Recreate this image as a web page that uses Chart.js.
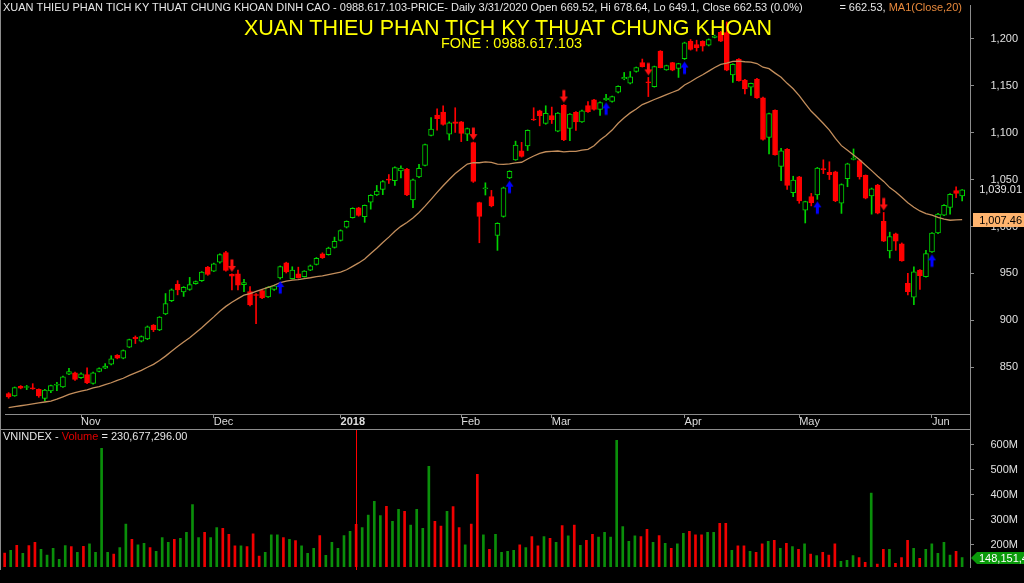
<!DOCTYPE html>
<html>
<head>
<meta charset="utf-8">
<title>VNINDEX</title>
<script src="https://cdn.jsdelivr.net/npm/chart.js@4.4.0/dist/chart.umd.min.js"></script>
<style>
  html, body { margin: 0; padding: 0; background: #000; }
  body { position: relative; width: 1024px; height: 583px; overflow: hidden; font-family: "Liberation Sans", Arial, sans-serif; }
  canvas { position: absolute; left: 0; }
  #price { top: 0; }
  #volume { top: 429px; }
  .t { position: absolute; white-space: nowrap; line-height: 1; z-index: 2; }
  #info { left: 3px; top: 2px; font-size: 11px; color: #e6e6e6; }
  #maInfo { right: 62px; top: 2px; font-size: 11px; color: #e6e6e6; }
  #maInfo span { color: #e8893c; }
  #title { left: 0; width: 1016px; text-align: center; top: 17.5px; font-size: 21.5px; color: #ffff00; }
  #fone { left: 0; width: 1023px; text-align: center; top: 36px; font-size: 14.5px; color: #ffff00; }
  #volInfo { left: 3px; top: 431px; font-size: 11px; color: #e6e6e6; }
  #volInfo span { color: #e00000; }
  #frame { position: absolute; left: 0; top: 0; width: 1px; height: 570px; background: #8c8c8c; z-index: 3; }
</style>
</head>
<body>
<canvas id="price" width="1024" height="429"></canvas>
<canvas id="volume" width="1024" height="154"></canvas>
<div id="frame"></div>
<div class="t" id="info">XUAN THIEU PHAN TICH KY THUAT CHUNG KHOAN DINH CAO - 0988.617.103-PRICE- Daily 3/31/2020 Open 669.52, Hi 678.64, Lo 649.1, Close 662.53 (0.0%)</div>
<div class="t" id="maInfo">= 662.53, <span>MA1(Close,20)</span></div>
<div class="t" id="title">XUAN THIEU PHAN TICH KY THUAT CHUNG KHOAN</div>
<div class="t" id="fone">FONE : 0988.617.103</div>
<div class="t" id="volInfo">VNINDEX - <span>Volume</span> = 230,677,296.00</div>
<script>
// trading days shown on the chart
const dates = [
  '2017-10-16','2017-10-17','2017-10-18','2017-10-19','2017-10-20','2017-10-23','2017-10-24','2017-10-25','2017-10-26','2017-10-27','2017-10-30','2017-10-31',
  '2017-11-01','2017-11-02','2017-11-03','2017-11-06','2017-11-07','2017-11-08','2017-11-09','2017-11-10','2017-11-13','2017-11-14','2017-11-15','2017-11-16',
  '2017-11-17','2017-11-20','2017-11-21','2017-11-22','2017-11-23','2017-11-24','2017-11-27','2017-11-28','2017-11-29','2017-11-30',
  '2017-12-01','2017-12-04','2017-12-05','2017-12-06','2017-12-07','2017-12-08','2017-12-11','2017-12-12','2017-12-13','2017-12-14','2017-12-15',
  '2017-12-18','2017-12-19','2017-12-20','2017-12-21','2017-12-22','2017-12-25','2017-12-26','2017-12-27','2017-12-28','2017-12-29',
  '2018-01-02','2018-01-03','2018-01-04','2018-01-05','2018-01-08','2018-01-09','2018-01-10','2018-01-11','2018-01-12','2018-01-15',
  '2018-01-16','2018-01-17','2018-01-18','2018-01-19','2018-01-22','2018-01-23','2018-01-24','2018-01-25','2018-01-26','2018-01-29',
  '2018-02-01','2018-02-02','2018-02-05','2018-02-06','2018-02-07','2018-02-08','2018-02-09','2018-02-12','2018-02-13','2018-02-21',
  '2018-02-22','2018-02-23','2018-02-26','2018-02-27','2018-02-28',
  '2018-03-01','2018-03-02','2018-03-05','2018-03-06','2018-03-07','2018-03-08','2018-03-09','2018-03-12','2018-03-13','2018-03-14','2018-03-15',
  '2018-03-16','2018-03-19','2018-03-20','2018-03-21','2018-03-22','2018-03-23','2018-03-26','2018-03-27','2018-03-28','2018-03-29','2018-03-30',
  '2018-04-02','2018-04-03','2018-04-04','2018-04-05','2018-04-06','2018-04-09','2018-04-10','2018-04-11','2018-04-12','2018-04-13',
  '2018-04-16','2018-04-17','2018-04-18','2018-04-19','2018-04-20','2018-04-23','2018-04-24','2018-04-26','2018-04-27',
  '2018-05-02','2018-05-03','2018-05-04','2018-05-07','2018-05-08','2018-05-09','2018-05-10','2018-05-11','2018-05-14','2018-05-15','2018-05-16',
  '2018-05-17','2018-05-18','2018-05-21','2018-05-22','2018-05-23','2018-05-24','2018-05-25','2018-05-28','2018-05-29','2018-05-30','2018-05-31',
  '2018-06-01','2018-06-04','2018-06-05','2018-06-06','2018-06-07','2018-06-08'
];

const opens = [
  821.9,819.5,829.7,828.4,827.5,826.5,816.7,824.7,830.8,829,
  842.7,844,838.8,842.3,832.8,845.5,849,853.2,862.7,859.8,
  871.4,882,877.8,880.2,895,889.7,906.9,920.9,938.5,930.4,
  932.9,939.2,942.3,956.7,952.5,962,972.2,949,949.7,938.1,
  930.7,927.3,931.8,925.1,932.9,945.1,961.3,944.4,949.7,946.5,
  953.6,959.5,970.8,970.1,977.8,985.2,999.2,1009.4,1019.9,1010.4,
  1025.9,1033.6,1039.5,1050.5,1049,1059.2,1061.3,1028.3,1052.9,1065.2,
  1097.1,1118.9,1122,1098.5,1111.5,1111.5,1098.5,1089.4,1025.5,1040.3,
  1031.9,990.4,1010.8,1051.8,1071.1,1080.6,1085.9,1114.3,1123.4,1109.8,
  1118.2,1101.7,1129.4,1104.5,1121.7,1111.5,1129,1135,1124.8,1135,
  1133.3,1143.1,1157.5,1152.9,1165.2,1174.7,1153.6,1149.1,1187,1167,
  1174.7,1168.4,1178.9,1197.5,1194,1197.5,1193.3,1201.5,1207,1206.6,
  1161.7,1178.2,1156.1,1148.4,1157.1,1137.1,1095,1123.8,1064.1,1082.4,
  1036,1052.9,1017.4,1031.8,1033.6,1061,1057.8,1058.2,1024.8,1051.1,
  1071.5,1070.4,1054.6,1032.5,1044.1,1005.5,973.9,992.2,981.6,939.5,
  924.8,953.6,946.5,972.9,993.2,1012.2,1020.3,1038.2,1032.6
];
const highs = [
  823,829,830.5,830.7,832.5,827,826.5,831,833.9,840.5,
  849,845,844,849.3,845,849.5,853.9,862.3,863.5,868.5,
  880,883.4,883.5,894,895.5,904,928.6,933.5,942.3,936,
  945.8,942,952,957.5,961,971,973.6,949.5,953.6,943.7,
  936,928.5,932.5,936,937.5,958,962,957.1,956.7,953,
  959,967,972,978,988.7,996.5,1006,1020,1020.5,1023,
  1034,1043.8,1049,1055.4,1063.5,1064.8,1062,1050.5,1066.2,1088,
  1116,1125.5,1128.7,1111.5,1126.6,1112,1105,1090,1026,1046.6,
  1038.5,1004,1042,1059.5,1091,1089.7,1103,1126.6,1124,1128.7,
  1127.3,1121.5,1130,1120.5,1122.5,1124,1133.3,1135.5,1133,1141,
  1139,1150,1164.2,1165.2,1170,1178.5,1158.9,1171,1187.5,1172,
  1175,1174,1196.5,1199.3,1198.6,1198,1200,1204,1208,1218,
  1173.5,1179,1157,1153,1158,1138,1121,1124.5,1083.4,1083,
  1053.6,1053.5,1027,1035.3,1063,1071.1,1069,1059,1045.5,1067.5,
  1082.7,1071,1055,1041,1045,1015,994,993,982.5,950,
  957.1,954,974.6,993.5,1014,1023.5,1035,1042.4,1039.5
];
const lows = [
  817,819,827,826.2,826.5,818,814.2,823,825.1,828.5,
  842,836,838,832.5,832,845,848.5,852.5,859,859,
  871,875.3,877,879.5,888,889,906,920,927.2,925.5,
  932,938.5,941.5,948,952,961,952.5,932.5,932.5,930.7,
  915.5,896.4,923,924.5,932,944,950.5,944,945,946,
  953,959,966,969.5,977,984.5,998.5,1009,1011,1004.5,
  1018.5,1033,1034,1045.9,1043.8,1051.8,1033,1020.2,1052,1064.5,
  1096.5,1102.7,1108,1092.2,1100.3,1090.5,1091.5,1047,982.7,1033.6,
  1021,974.6,1010,1051,1070.5,1074,1081,1113,1107.3,1109,
  1109.8,1101,1091.5,1091.5,1102.4,1111,1121.5,1124,1118.5,1134.5,
  1132.5,1142.5,1156.4,1152,1164.5,1170,1138.5,1148.5,1169,1166.5,
  1166,1158.9,1178,1188,1187,1187,1192.5,1201,1197,1166,
  1153.6,1155,1141.4,1139.6,1136.5,1092,1077.5,1076,1049,1039.5,
  1031.8,1024.8,1003.8,1022,1029,1056.4,1050.1,1026.5,1014,1042.4,
  1071,1050.5,1029.5,1013.2,1013.5,984,966.5,974.6,963,927.2,
  916.7,933,946,972.5,992.5,1011.5,1013.2,1030.8,1027.3
];
const closes = [
  818.4,828.3,827.6,828.7,827,819.5,825.8,830.4,831.4,839.8,
  845.5,837,843,833.2,844,848.6,851.4,859.1,859.8,867.9,
  879.5,880.5,882.7,893.2,890,903.4,917.8,932.5,932.5,935.3,
  938.1,941.3,951.5,949,960.2,970.1,953.2,947.2,937.4,940.2,
  916.4,926.5,924,935.3,936.7,957.4,951.5,953.6,945.5,952.5,
  958.1,966.2,966.9,977.1,984.1,995.7,1005.5,1019.5,1011.8,1022.7,
  1033.2,1037.8,1048,1049.5,1062.7,1062.4,1033.6,1049.7,1062,1087.3,
  1103.8,1114.9,1108.7,1110.5,1110,1099.2,1104.5,1048,1010.8,1040.6,
  1022,1003.4,1041.3,1058.9,1086.9,1074.7,1102.4,1113.5,1118.2,1120.6,
  1114,1121,1092.2,1119.9,1111.5,1123.4,1122.4,1124.8,1132.2,1136.8,
  1138.5,1149.4,1158.9,1159.6,1169.4,1170.5,1153.2,1170.5,1169.4,1171.5,
  1166.6,1173.6,1195.8,1188.7,1190.5,1192.2,1199.3,1203,1197.5,1166.6,
  1172.9,1155.4,1146.6,1152.6,1137.1,1092.9,1120.3,1076.4,1080.6,1043.8,
  1049.4,1027.3,1026.6,1025.5,1062.4,1060.6,1055.4,1027.3,1044.8,1066.9,
  1072,1052.9,1030.1,1040.3,1014.3,984.5,989.4,984.5,963.4,930.7,
  951.8,947.6,971.1,992.9,1013.2,1022.7,1034.3,1035.3,1039.01
];
// MA1(Close,20)
const ma20 = [
  807,808,809,810,811,812,813,814,816,818.5,
  821,823,824.5,826,828,829.5,831.5,833.5,836,838.3,
  841.4,844.0,846.7,850.0,853.1,857.3,861.9,867.0,872.1,876.9,
  881.5,886.7,892.1,897.9,903.7,909.8,914.9,919.3,923.2,926.8,
  928.6,930.9,933.0,935.1,937.4,940.1,941.8,942.9,943.5,944.4,
  945.4,946.6,947.4,948.8,950.0,951.3,953.9,957.5,961.2,965.4,
  971.2,976.8,983.0,988.7,995.0,1000.2,1004.3,1009.1,1015.0,1021.7,
  1029.0,1036.4,1043.5,1050.2,1056.5,1061.6,1066.6,1068.0,1068.0,1068.9,
  1068.3,1066.6,1066.3,1066.7,1067.9,1068.5,1072.0,1075.2,1078.0,1079.7,
  1080.2,1080.5,1079.6,1080.1,1080.2,1081.4,1082.3,1086.1,1092.2,1097.0,
  1102.8,1110.1,1116.0,1121.1,1125.2,1130.0,1132.5,1135.4,1137.9,1140.5,
  1143.1,1145.7,1150.9,1154.3,1158.3,1161.7,1165.6,1169.5,1172.8,1174.2,
  1176.0,1176.3,1175.6,1175.3,1173.7,1169.8,1168.2,1163.5,1159.0,1152.6,
  1146.8,1139.5,1131.0,1122.8,1116.4,1109.8,1102.7,1093.9,1086.2,1081.2,
  1076.2,1071.1,1065.3,1059.6,1053.5,1048.1,1041.5,1036.9,1031.1,1025.4,
  1020.5,1016.6,1013.8,1012.2,1009.7,1007.8,1006.7,1007.1,1007.46
];
// volume in millions of shares
const volumeMillions = [
  166,177,197,165,196,209,181,158,185,141,
  196,192,169,193,203,169,585,169,162,188,
  282,221,199,205,188,173,228,209,221,225,
  249,360,228,249,228,268,265,241,195,195,
  192,243,154,169,239,239,228,221,216,195,
  165,185,236,157,209,185,236,253,281,268,
  318,373,316,353,293,341,333,278,341,265,
  513,293,274,333,352,268,199,282,481,239,
  181,241,169,173,177,199,188,232,195,232,
  225,209,276,235,278,197,217,241,230,249,
  230,617,272,213,235,232,261,209,236,205,
  185,203,245,253,239,239,249,249,285,285,
  177,195,195,173,169,203,213,217,185,205,
  192,181,203,162,156,169,158,203,133,137,
  156,148,129,406,122,181,181,125,148,217,
  185,145,181,203,165,209,158,173,148.1514
];
const buyBars = [45, 83, 99, 112, 134, 153];
const sellBars = [37, 77, 92, 106, 145];
const selectedBar = 58;
const monthNames = ['Jan','Feb','Mar','Apr','May','Jun','Jul','Aug','Sep','Oct','Nov','Dec'];
const priceTicks = [850, 900, 950, 1000, 1050, 1100, 1150, 1200];
const volumeTicks = [200, 300, 400, 500, 600];

const FONT = '"Liberation Sans", Arial, sans-serif';
const UP = '#00d400', DOWN = '#ff0000';
const VOL_UP = '#0a8f0a', VOL_DOWN = '#f00000';
const GRID = '#8c8c8c';
const X_MIN = -0.6, X_MAX = 159.3;

Chart.defaults.font.family = FONT;

const isUp = closes.map((c, i) => c >= opens[i]);

// first bar of each month gets a tick; January shows the year
const monthTicks = [];
dates.forEach((d, i) => {
  if (i === 0) return;
  const m = +d.slice(5, 7);
  if (m !== +dates[i - 1].slice(5, 7)) {
    monthTicks.push({ value: i, label: m === 1 ? d.slice(0, 4) : monthNames[m - 1] });
  }
});

function makeArrow(color, down) {
  const c = document.createElement('canvas');
  c.width = 9; c.height = 34;
  const g = c.getContext('2d');
  g.fillStyle = color;
  g.beginPath();
  if (down) {
    g.moveTo(4.5, 15); g.lineTo(0.5, 9); g.lineTo(3, 9); g.lineTo(3, 2.5);
    g.lineTo(6, 2.5); g.lineTo(6, 9); g.lineTo(8.5, 9);
  } else {
    g.moveTo(4.5, 19); g.lineTo(8.5, 25); g.lineTo(6, 25); g.lineTo(6, 31.5);
    g.lineTo(3, 31.5); g.lineTo(3, 25); g.lineTo(0.5, 25);
  }
  g.closePath();
  g.fill();
  return c;
}

const fmt2 = v => v.toLocaleString('en-US', { minimumFractionDigits: 2, maximumFractionDigits: 2 });

const priceLabels = {
  id: 'priceLabels',
  afterDraw(chart) {
    const { ctx, chartArea } = chart;
    const y = chart.scales.y;
    const last = closes.length - 1;
    ctx.save();
    ctx.strokeStyle = GRID;
    ctx.lineWidth = 1;
    ctx.beginPath();
    ctx.moveTo(970.5, chartArea.bottom);
    ctx.lineTo(970.5, chart.height);
    ctx.stroke();

    ctx.font = '11px ' + FONT;
    ctx.textAlign = 'right';
    ctx.textBaseline = 'middle';
    ctx.fillStyle = '#e6e6e6';
    ctx.fillText(fmt2(closes[last]), 1022, y.getPixelForValue(closes[last]));

    const ym = Math.round(y.getPixelForValue(ma20[last]));
    ctx.fillStyle = '#ffb46e';
    ctx.fillRect(973, ym - 7, 51, 14);
    ctx.fillStyle = '#000';
    ctx.fillText(fmt2(ma20[last]), 1022, ym + 0.5);
    ctx.restore();
  }
};

const volumeLabels = {
  id: 'volumeLabels',
  afterDraw(chart) {
    const { ctx, chartArea } = chart;
    const x = chart.scales.x, y = chart.scales.y;
    const last = volumeMillions.length - 1;
    ctx.save();
    ctx.strokeStyle = GRID;
    ctx.lineWidth = 1;
    ctx.beginPath();
    ctx.moveTo(0, 0.5);
    ctx.lineTo(chartArea.right, 0.5);
    ctx.stroke();

    const xs = Math.round(x.getPixelForValue(selectedBar)) + 0.5;
    ctx.strokeStyle = '#ff0000';
    ctx.beginPath();
    ctx.moveTo(xs, 1);
    ctx.lineTo(xs, chartArea.bottom + 3);
    ctx.stroke();

    const yv = Math.round(y.getPixelForValue(volumeMillions[last]));
    ctx.fillStyle = '#0a9a0a';
    ctx.beginPath();
    ctx.moveTo(971, yv);
    ctx.lineTo(977, yv - 6);
    ctx.lineTo(1024, yv - 6);
    ctx.lineTo(1024, yv + 6);
    ctx.lineTo(977, yv + 6);
    ctx.closePath();
    ctx.fill();
    ctx.fillStyle = '#ffffff';
    ctx.font = '11px ' + FONT;
    ctx.textAlign = 'left';
    ctx.textBaseline = 'middle';
    ctx.fillText(Math.round(volumeMillions[last] * 1e6).toLocaleString('en-US'), 979, yv + 0.5);
    ctx.restore();
  }
};

function rightAxis(min, max, tickValues, format) {
  return {
    position: 'right',
    min: min,
    max: max,
    bounds: 'data',
    beginAtZero: false,
    afterBuildTicks: s => { s.ticks = tickValues.map(v => ({ value: v })); },
    afterFit: s => { s.width = 48; s.paddingTop = 0; s.paddingBottom = 0; },
    ticks: {
      crossAlign: 'far',
      padding: 16.5,
      color: '#e0e0e0',
      font: { family: FONT, size: 11 },
      callback: format
    },
    grid: { drawOnChartArea: false, tickLength: 4, color: GRID },
    border: { color: GRID }
  };
}

new Chart(document.getElementById('price'), {
  type: 'bar',
  data: {
    datasets: [
      {
        type: 'scatter',
        data: sellBars.map(i => ({ x: i, y: highs[i] })),
        pointStyle: makeArrow('#ff1010', true),
        order: 0
      },
      {
        type: 'scatter',
        data: buyBars.map(i => ({ x: i, y: lows[i] })),
        pointStyle: makeArrow('#0000ff', false),
        order: 0
      },
      {
        type: 'line',
        data: ma20.map((v, i) => ({ x: i, y: v })),
        borderColor: '#c38e5c',
        borderWidth: 1.3,
        pointRadius: 0,
        order: 1
      },
      {
        data: opens.map((o, i) => ({ x: i, y: [o, closes[i]] })),
        backgroundColor: isUp.map(u => u ? '#000000' : DOWN),
        borderColor: isUp.map(u => u ? UP : DOWN),
        borderWidth: 1,
        borderSkipped: false,
        barThickness: 5,
        minBarLength: 1,
        grouped: false,
        order: 2
      },
      {
        data: lows.map((l, i) => ({ x: i, y: [l, highs[i]] })),
        backgroundColor: isUp.map(u => u ? UP : DOWN),
        barThickness: 1,
        grouped: false,
        order: 3
      }
    ]
  },
  options: {
    responsive: false,
    animation: false,
    events: [],
    layout: { padding: { left: 1, right: 6, top: 0, bottom: 0 } },
    plugins: { legend: { display: false }, tooltip: { enabled: false } },
    scales: {
      x: {
        type: 'linear',
        min: X_MIN,
        max: X_MAX,
        bounds: 'data',
        offset: false,
        afterBuildTicks: s => { s.ticks = monthTicks.map(t => ({ value: t.value })); },
        afterFit: s => { s.height = 15; s.paddingLeft = 0; s.paddingRight = 0; },
        ticks: {
          autoSkip: false,
          maxRotation: 0,
          align: 'start',
          labelOffset: 0,
          padding: -2,
          color: '#dcdcdc',
          font: ctx => ({ family: FONT, size: 11, lineHeight: 1, weight: ctx.tick && ctx.tick.label === '2018' ? 'bold' : 'normal' }),
          callback: (v, i) => monthTicks[i] ? monthTicks[i].label : null
        },
        grid: { drawOnChartArea: false, offset: false, tickLength: 4, color: GRID },
        border: { color: GRID }
      },
      y: rightAxis(800.2, 1236.1, priceTicks, v => Number(v).toLocaleString('en-US'))
    }
  },
  plugins: [priceLabels]
});

new Chart(document.getElementById('volume'), {
  type: 'bar',
  data: {
    datasets: [{
      data: volumeMillions.map((v, i) => ({ x: i, y: v })),
      backgroundColor: isUp.map(u => u ? VOL_UP : VOL_DOWN),
      barThickness: 2,
      grouped: false
    }]
  },
  options: {
    responsive: false,
    animation: false,
    events: [],
    layout: { padding: { left: 1, right: 6, top: 0, bottom: 16 } },
    plugins: { legend: { display: false }, tooltip: { enabled: false } },
    scales: {
      x: { type: 'linear', min: X_MIN, max: X_MAX, bounds: 'data', offset: false, display: false, grid: { offset: false } },
      y: rightAxis(110.4, 662.4, volumeTicks, v => v + 'M')
    }
  },
  plugins: [volumeLabels]
});
</script>
</body>
</html>
